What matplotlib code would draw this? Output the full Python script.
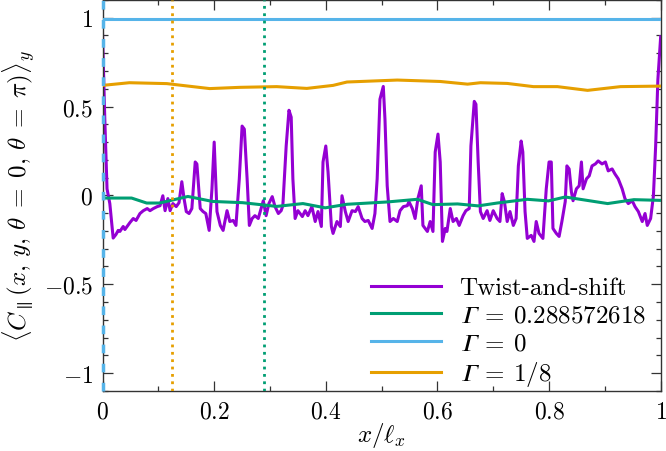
import matplotlib
matplotlib.use("Agg")
import matplotlib.pyplot as plt
from matplotlib.ticker import MultipleLocator, FuncFormatter

plt.rcParams['font.family'] = 'serif'
plt.rcParams['font.serif'] = ['cmr10', 'DejaVu Serif']
plt.rcParams['mathtext.fontset'] = 'cm'
plt.rcParams['axes.formatter.use_mathtext'] = True

# Twist-and-shift
x_ts = [0.000, 0.004, 0.008, 0.013, 0.019, 0.024, 0.028, 0.031, 0.037, 0.040,
        0.044, 0.049, 0.055, 0.060, 0.067, 0.073, 0.080, 0.085, 0.091, 0.098,
        0.103, 0.108, 0.112, 0.117, 0.121, 0.126, 0.132, 0.137, 0.142, 0.146,
        0.150, 0.155, 0.160, 0.166, 0.169, 0.175, 0.180, 0.185, 0.191, 0.196,
        0.200, 0.205, 0.211, 0.216, 0.223, 0.228, 0.234, 0.239, 0.245, 0.250,
        0.254, 0.259, 0.263, 0.268, 0.273, 0.279, 0.284, 0.288, 0.293, 0.298,
        0.304, 0.309, 0.315, 0.320, 0.323, 0.329, 0.334, 0.338, 0.341, 0.345,
        0.350, 0.358, 0.363, 0.368, 0.375, 0.381, 0.386, 0.392, 0.395, 0.400,
        0.404, 0.410, 0.413, 0.420, 0.426, 0.429, 0.435, 0.440, 0.447, 0.453,
        0.458, 0.465, 0.470, 0.476, 0.483, 0.488, 0.492, 0.497, 0.503, 0.506,
        0.510, 0.515, 0.521, 0.528, 0.533, 0.539, 0.546, 0.549, 0.555, 0.560,
        0.565, 0.571, 0.574, 0.582, 0.587, 0.592, 0.596, 0.601, 0.605, 0.609,
        0.614, 0.617, 0.623, 0.628, 0.634, 0.639, 0.646, 0.651, 0.657, 0.660,
        0.666, 0.669, 0.673, 0.677, 0.682, 0.689, 0.694, 0.700, 0.707, 0.712,
        0.716, 0.720, 0.725, 0.730, 0.736, 0.741, 0.745, 0.750, 0.753, 0.757,
        0.761, 0.768, 0.773, 0.777, 0.782, 0.789, 0.795, 0.800, 0.804, 0.807,
        0.813, 0.818, 0.823, 0.829, 0.832, 0.836, 0.840, 0.843, 0.849, 0.854,
        0.858, 0.861, 0.867, 0.872, 0.877, 0.883, 0.888, 0.895, 0.901, 0.906,
        0.913, 0.918, 0.924, 0.931, 0.936, 0.942, 0.949, 0.954, 0.960, 0.967,
        0.972, 0.976, 0.982, 0.987, 0.991, 0.995, 1.000]
c_ts = [0.904, 0.429, 0.037, -0.046, -0.240, -0.220, -0.197, -0.203, -0.175, -0.192,
        -0.175, -0.153, -0.130, -0.141, -0.102, -0.086, -0.074, -0.086, -0.074, -0.063,
        -0.058, -0.002, -0.086, -0.018, -0.086, -0.046, -0.063, -0.041, 0.077, -0.018,
        -0.091, -0.102, -0.074, 0.188, 0.177, -0.074, -0.091, -0.102, -0.197, 0.037,
        0.300, -0.091, -0.169, -0.197, -0.086, -0.147, -0.141, -0.169, 0.093, 0.390,
        0.373, 0.093, -0.169, -0.130, -0.114, -0.130, -0.074, -0.030, -0.114, -0.046,
        -0.007, -0.063, -0.102, -0.086, -0.058, 0.278, 0.479, 0.440, 0.093, -0.130,
        -0.086, -0.119, -0.086, -0.114, -0.063, -0.147, -0.091, -0.175, 0.188, 0.278,
        0.132, -0.175, -0.214, -0.147, -0.175, -0.002, -0.091, -0.147, -0.086, -0.091,
        -0.063, -0.130, -0.147, -0.141, -0.186, -0.102, 0.093, 0.541, 0.613, 0.429,
        0.054, -0.147, -0.130, -0.147, -0.086, -0.063, -0.058, -0.035, -0.074, -0.130,
        -0.018, 0.054, -0.169, -0.203, -0.147, -0.203, 0.244, 0.345, 0.188, -0.259,
        -0.186, -0.203, -0.074, -0.147, -0.130, -0.169, -0.114, -0.086, -0.074, 0.278,
        0.529, 0.513, 0.188, -0.091, -0.130, -0.086, -0.141, -0.086, -0.130, -0.147,
        0.010, -0.035, -0.147, -0.091, -0.169, -0.130, 0.166, 0.306, 0.244, -0.091,
        -0.242, -0.225, -0.259, -0.147, -0.214, -0.242, 0.037, 0.188, 0.188, -0.186,
        -0.214, -0.231, -0.147, -0.035, 0.166, 0.149, 0.021, -0.030, 0.037, 0.054,
        0.188, 0.037, 0.093, 0.110, 0.166, 0.177, 0.194, 0.177, 0.188, 0.138,
        0.149, 0.121, 0.093, 0.037, -0.018, -0.046, -0.030, -0.063, -0.091, -0.147,
        -0.102, -0.169, -0.130, -0.002, 0.278, 0.652, 0.893]

# Gamma = 0.288572618
x_g1 = [0.000, 0.052, 0.079, 0.102, 0.153, 0.197, 0.251, 0.312, 0.359, 0.399, 0.438,
        0.510, 0.564, 0.592, 0.636, 0.673, 0.707, 0.761, 0.799, 0.829, 0.905, 0.952, 1.000]
c_g1 = [-0.015, -0.015, -0.043, -0.043, -0.006, -0.034, -0.041, -0.062, -0.046, -0.070, -0.050,
        -0.037, -0.022, -0.052, -0.048, -0.059, -0.043, -0.022, -0.031, -0.009, -0.046, -0.024, -0.028]

# Gamma = 0
x_g0 = [0.0, 1.0]
c_g0 = [0.99, 0.99]

# Gamma = 1/8
x_g8 = [0.000, 0.048, 0.115, 0.192, 0.246, 0.312, 0.366, 0.413, 0.438, 0.528, 0.605,
        0.654, 0.677, 0.725, 0.772, 0.815, 0.869, 0.928, 1.000]
c_g8 = [0.619, 0.634, 0.629, 0.601, 0.608, 0.612, 0.602, 0.619, 0.638, 0.649, 0.641,
        0.626, 0.634, 0.630, 0.612, 0.612, 0.591, 0.612, 0.615]

gamma_star = 0.288572618
gamma_eighth = 1 / 8

purple = '#9400D3'
green = '#009E73'
blue = '#56B4E9'
orange = '#E69F00'

G = '\U0001D6E4'  # italic capital gamma

fig = plt.figure(figsize=(6.66, 4.52), dpi=100)
ax = fig.add_axes([0.154, 0.133, 0.838, 0.865])

ax.plot(x_ts, c_ts, color=purple, lw=2.2, label='Twist-and-shift', zorder=2)
ax.plot(x_g1, c_g1, color=green, lw=2.2, label='$' + G + r'\:=\:0.288572618$', zorder=3)
ax.plot(x_g0, c_g0, color=blue, lw=2.2, label='$' + G + r'\:=\:0$', zorder=3)
ax.plot(x_g8, c_g8, color=orange, lw=2.2, label='$' + G + r'\:=\:1/8$', zorder=3)

ax.axvline(0.0, color=blue, lw=2.5, ls=(0, (2.5, 3)), zorder=5, clip_on=False)
ax.axvline(gamma_eighth, color=orange, lw=2.0, ls=':', zorder=4)
ax.axvline(gamma_star, color=green, lw=2.0, ls=':', zorder=4)

ax.set_xlim(0, 1)
ax.set_ylim(-1.1, 1.1)

fmt = FuncFormatter(lambda v, p: '$%g$' % round(v, 6) if abs(v) > 1e-9 else '$0$')
ax.xaxis.set_major_locator(MultipleLocator(0.2))
ax.xaxis.set_minor_locator(MultipleLocator(0.1))
ax.yaxis.set_major_locator(MultipleLocator(0.5))
ax.yaxis.set_minor_locator(MultipleLocator(0.1))
ax.xaxis.set_major_formatter(fmt)
ax.yaxis.set_major_formatter(fmt)
ax.tick_params(which='both', direction='in', top=True, right=True, labelsize=17,
               color='#333333', width=0.9)
ax.tick_params(which='major', length=7, pad=7)
ax.tick_params(which='minor', length=3.5)
for s in ax.spines.values():
    s.set_color('#333333')
    s.set_linewidth(1.0)

ax.set_xlabel(r'$x/\ell_x$', fontsize=18, labelpad=-2)
ax.set_ylabel(r'$\langle C_\parallel(x,\, y,\, \theta\; =\; 0,\, \theta\; =\; \pi)\rangle_y$',
              fontsize=18, labelpad=4)

ax.legend(loc='lower right', bbox_to_anchor=(1.0, -0.032), frameon=False, fontsize=18,
          handlelength=2.8, handletextpad=0.75, labelspacing=0.2, borderaxespad=0.2)

fig.savefig('out.png', dpi=100)
